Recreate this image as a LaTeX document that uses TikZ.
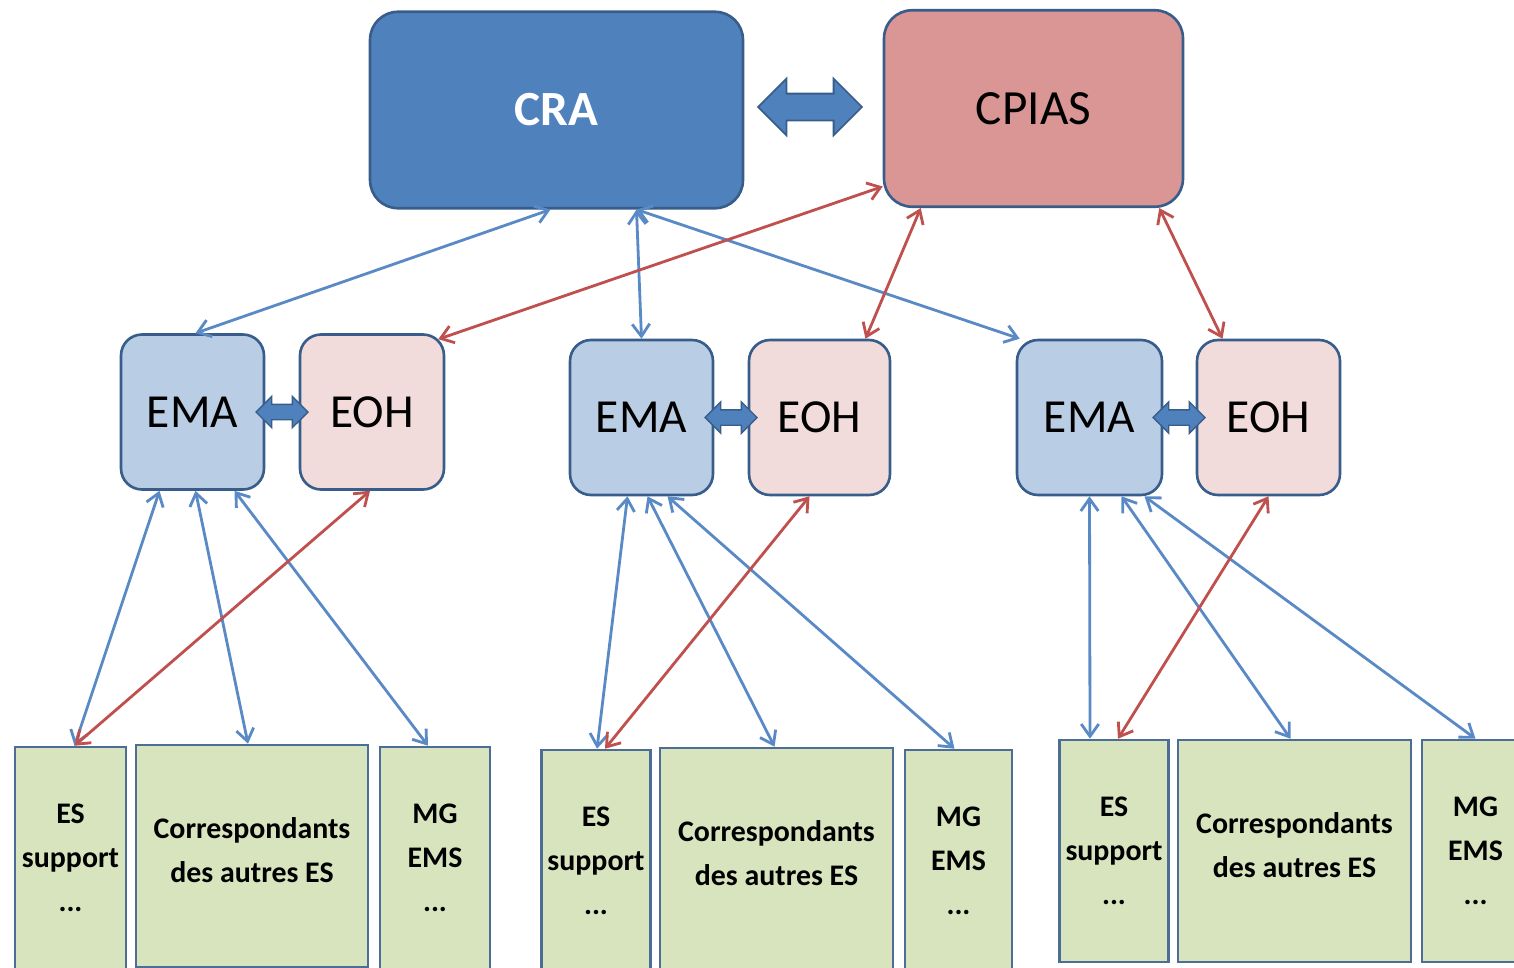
\documentclass[tikz,border=0pt]{standalone}
\usepackage{fontspec}
\setmainfont{Carlito}
\usetikzlibrary{arrows.meta}
\usetikzlibrary{calc}
\usetikzlibrary{shapes.arrows}

\definecolor{crablue}{RGB}{79,129,189}
\definecolor{cpiaspink}{RGB}{217,150,148}
\definecolor{emablue}{RGB}{185,205,229}
\definecolor{eohpink}{RGB}{242,220,219}
\definecolor{esgreen}{RGB}{215,228,189}
\definecolor{edgeblue}{RGB}{56,93,138}
\definecolor{linkblue}{RGB}{90,138,198}
\definecolor{linkred}{RGB}{192,80,77}

\tikzset{
  topbox/.style={rectangle,rounded corners=0.56cm,draw=edgeblue,line width=1.5pt,minimum height=3.93cm,font=\fontsize{28}{30}\selectfont},
  midbox/.style={rectangle,rounded corners=0.42cm,draw=edgeblue,line width=1.5pt,minimum height=3.1cm,font=\fontsize{27}{30}\selectfont},
  basebox/.style={rectangle,draw=edgeblue!90,fill=esgreen,line width=1.5pt,minimum height=4.44cm,align=center,font=\fontsize{17}{25}\selectfont\bfseries},
  bigswap/.style={double arrow,fill=crablue,draw=edgeblue,line width=1pt,inner xsep=0pt,inner ysep=0.25cm,minimum height=2.08cm,minimum width=1.1cm,double arrow head extend=0.3cm},
  smallswap/.style={double arrow,fill=crablue,draw=edgeblue,line width=0.8pt,inner xsep=0pt,inner ysep=0.14cm,minimum height=1.04cm,minimum width=0.6cm,double arrow head extend=0.16cm},
  barb/.style={line width=1.6pt,{Straight Barb[length=7pt,width=10pt]}-{Straight Barb[length=7pt,width=10pt]}},
  bluelink/.style={barb,draw=linkblue},
  redlink/.style={barb,draw=linkred}
}

\begin{document}
\begin{tikzpicture}[x=0.02cm,y=-0.02cm]
\clip (0,0) rectangle (1514,967);

% top level
\node[topbox,fill=crablue,text=white,minimum width=7.46cm,font=\fontsize{28}{30}\selectfont\bfseries] (cra) at (556.5,110) {CRA};
\node[topbox,fill=cpiaspink,minimum width=5.98cm] (cpias) at (1033.5,108.5) {CPIAS};
\node[bigswap] (link) at (810,107) {};

% middle level
\node[midbox,fill=emablue,minimum width=2.86cm] (ema1) at (192.5,412) {EMA};
\node[midbox,fill=eohpink,minimum width=2.88cm] (eoh1) at (372,412) {EOH};
\node[smallswap] (swap1) at (282,412) {};
\node[midbox,fill=emablue,minimum width=2.86cm] (ema2) at (641.5,417.5) {EMA};
\node[midbox,fill=eohpink,minimum width=2.82cm] (eoh2) at (819.5,417.5) {EOH};
\node[smallswap] (swap2) at (731,417.5) {};
\node[midbox,fill=emablue,minimum width=2.9cm] (ema3) at (1089.5,417.5) {EMA};
\node[midbox,fill=eohpink,minimum width=2.86cm] (eoh3) at (1268.5,417.5) {EOH};
\node[smallswap] (swap3) at (1179,417.5) {};

% bottom level
\node[basebox,minimum width=2.22cm] (es1) at (70.5,858) {ES\\support\\...};
\node[basebox,minimum width=4.64cm,text depth=0.25cm] (cor1) at (252,856) {Correspondants\\des autres ES};
\node[basebox,minimum width=2.2cm] (mg1) at (435,858) {MG\\EMS\\...};
\node[basebox,minimum width=2.16cm] (es2) at (596,861) {ES\\support\\...};
\node[basebox,minimum width=4.66cm,text depth=0.25cm] (cor2) at (776.5,859) {Correspondants\\des autres ES};
\node[basebox,minimum width=2.14cm] (mg2) at (958.5,861) {MG\\EMS\\...};
\node[basebox,minimum width=2.16cm] (es3) at (1114,851) {ES\\support\\...};
\node[basebox,minimum width=4.66cm,text depth=0.25cm] (cor3) at (1294.5,851) {Correspondants\\des autres ES};
\node[basebox,minimum width=2.14cm] (mg3) at (1475.5,851) {MG\\EMS\\...};

% CRA and CPIAS down to the teams
\draw[bluelink] ($(cra.south)+(-6,0)$) -- ($(ema1.north)+(3,0)$);
\draw[bluelink] ($(cra.south)+(80,0)$) -- (ema2.north);
\draw[bluelink] ($(cra.south)+(80,0)$) -- ($(ema3.north west)+(4,0)$);
\draw[redlink] ($(cpias.west)+(0,78)$) -- ($(eoh1.north east)+(-7,6)$);
\draw[redlink] ($(cpias.south west)+(38,0)$) -- ($(eoh2.north)+(46,0)$);
\draw[redlink] ($(cpias.south east)+(-25,0)$) -- ($(eoh3.north)+(-46,0)$);

% teams down to the establishments
\draw[bluelink] ($(ema1.south)+(-33,0)$) -- ($(es1.north)+(4,0)$);
\draw[bluelink] ($(ema1.south)+(3,0)$) -- ($(cor1.north)+(-4,0)$);
\draw[bluelink] ($(ema1.south)+(42,0)$) -- ($(mg1.north)+(-7,0)$);
\draw[redlink] ($(eoh1.south)+(-2,0)$) -- ($(es1.north)+(4,0)$);

\draw[bluelink] ($(ema2.south)+(-14,0)$) -- ($(es2.north)+(1,0)$);
\draw[bluelink] ($(ema2.south)+(6,0)$) -- ($(cor2.north)+(-2,0)$);
\draw[bluelink] ($(ema2.south)+(26,0)$) -- ($(mg2.north)+(-4,0)$);
\draw[redlink] ($(eoh2.south)+(-10,0)$) -- ($(es2.north)+(9,0)$);

\draw[bluelink] (ema3.south) -- ($(es3.north)+(-24,0)$);
\draw[bluelink] ($(ema3.south)+(32,0)$) -- ($(cor3.north)+(-4,0)$);
\draw[bluelink] ($(ema3.south)+(55,0)$) -- (mg3.north);
\draw[redlink] (eoh3.south) -- ($(es3.north)+(4,0)$);

\end{tikzpicture}
\end{document}
